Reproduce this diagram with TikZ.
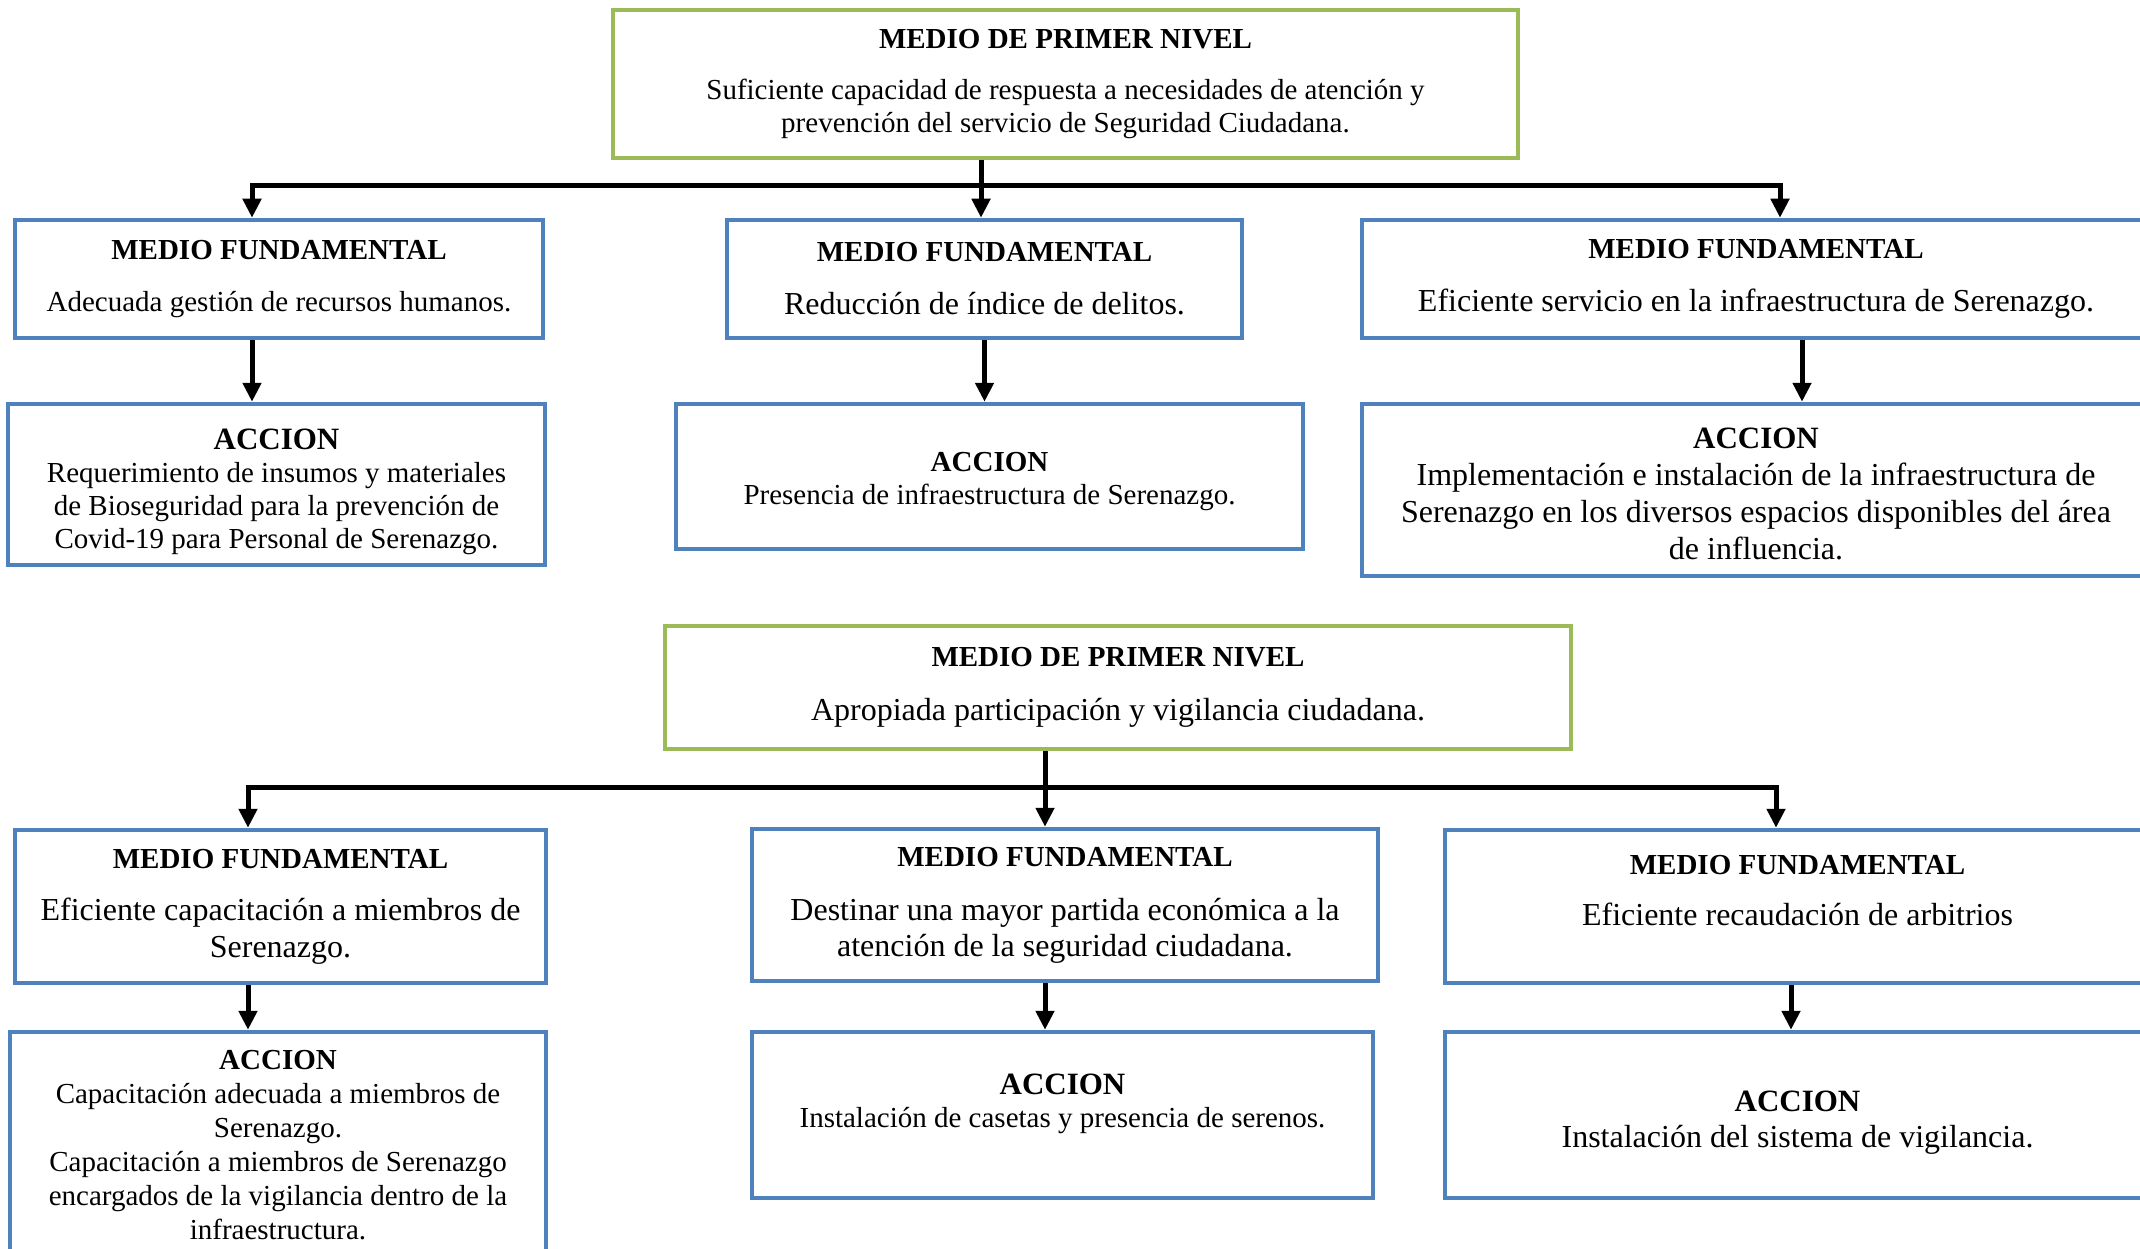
\documentclass[tikz,border=0pt]{standalone}
\usepackage{fontspec}
\setmainfont{Liberation Serif}
\usepackage{xcolor}
\usetikzlibrary{arrows.meta}

\definecolor{azulmedio}{RGB}{79,129,189}
\definecolor{verdenivel}{RGB}{155,187,89}
\newcommand{\cuerpo}{\fontsize{29}{33}\selectfont}
\newcommand{\grande}{\fontsize{32}{37}\selectfont}
\newcommand{\titulo}[1]{{\cuerpo\bfseries #1}}
\newcommand{\accion}[2][31]{\rule{0pt}{#2}{\fontsize{#1}{#1}\selectfont\bfseries ACCION}}

\begin{document}
\begin{tikzpicture}[x=1pt, y=-1pt,
  caja/.style={draw=azulmedio, line width=4.5pt, align=center, inner sep=0pt, font=\cuerpo},
  nivel/.style={caja, draw=verdenivel},
  flecha/.style={line width=5pt, -{Triangle[length=19pt,width=18pt]}}]
\useasboundingbox (0,0) rectangle (2140,1249);
\clip (0,0) rectangle (2140,1249);

% primer medio de primer nivel
\node[nivel, minimum width=905pt, minimum height=148pt] (G1) at (1065.5,84) {\titulo{MEDIO DE PRIMER NIVEL}\\[18pt]Suficiente capacidad de respuesta a necesidades de atención y\\prevención del servicio de Seguridad Ciudadana.};

\node[caja, minimum width=528pt, minimum height=118pt] (MF1) at (279,279) {\titulo{MEDIO FUNDAMENTAL}\\[19pt]Adecuada gestión de recursos humanos.};
\node[caja, minimum width=515pt, minimum height=118pt, font=\grande] (MF2) at (984.5,279) {\titulo{MEDIO FUNDAMENTAL}\\[16pt]Reducción de índice de delitos.};
\node[caja, minimum width=788pt, minimum height=118pt, font=\grande] (MF3) at (1756,279) {\titulo{MEDIO FUNDAMENTAL}\\[16pt]Eficiente servicio en la infraestructura de Serenazgo.};

\node[caja, minimum width=537pt, minimum height=161pt] (A1) at (276.5,484.5) {\accion{35pt}\\Requerimiento de insumos y materiales\\de Bioseguridad para la prevención de\\Covid-19 para Personal de Serenazgo.};
\node[caja, minimum width=627pt, minimum height=145pt] (A2) at (989.5,476.5) {\accion[29]{30pt}\\Presencia de infraestructura de Serenazgo.};
\node[caja, minimum width=788pt, minimum height=172pt, font=\grande] (A3) at (1756,490) {\accion{28pt}\\Implementación e instalación de la infraestructura de\\Serenazgo en los diversos espacios disponibles del área\\de influencia.};

% segundo medio de primer nivel
\node[nivel, minimum width=906pt, minimum height=123pt, font=\grande] (G2) at (1118,687.5) {\titulo{MEDIO DE PRIMER NIVEL}\\[17pt]Apropiada participación y vigilancia ciudadana.};

\node[caja, minimum width=531pt, minimum height=153pt, font=\grande] (MF4) at (280.5,906.5) {\titulo{MEDIO FUNDAMENTAL}\\[15pt]Eficiente capacitación a miembros de\\Serenazgo.};
\node[caja, minimum width=626pt, minimum height=152pt, font=\fontsize{32}{36}\selectfont] (MF5) at (1065,905) {\titulo{MEDIO FUNDAMENTAL}\\[18pt]Destinar una mayor partida económica a la\\atención de la seguridad ciudadana.};
\node[caja, minimum width=705pt, minimum height=153pt, font=\grande] (MF6) at (1797.5,906.5) {\titulo{MEDIO FUNDAMENTAL}\\[14pt]Eficiente recaudación de arbitrios\\[-4pt]~};

\node[caja, minimum width=536pt, minimum height=226pt, font=\fontsize{29}{34}\selectfont] (A4) at (278,1145) {\accion[29]{0pt}\\Capacitación adecuada a miembros de\\Serenazgo.\\Capacitación a miembros de Serenazgo\\encargados de la vigilancia dentro de la\\infraestructura.};
\node[caja, minimum width=621pt, minimum height=166pt] (A5) at (1062.5,1115) {\accion{24pt}\\Instalación de casetas y presencia de serenos.\\~};
\node[caja, minimum width=705pt, minimum height=166pt, font=\fontsize{32}{36}\selectfont] (A6) at (1797.5,1115) {\accion{35pt}\\Instalación del sistema de vigilancia.};

% ejes de los conectores
\coordinate (bus1) at (981,186);
\coordinate (b1) at (252,186);
\coordinate (b3) at (1780,186);
\coordinate (ejeA3) at (1802,0);
\coordinate (bus2) at (1045,787);
\coordinate (b4) at (248,787);
\coordinate (b6) at (1776,787);
\coordinate (ejeA6) at (1791,0);

\draw[flecha] (G1.south -| bus1) -- (MF2.north -| bus1);
\draw[flecha] (bus1) -| (MF1.north -| b1);
\draw[flecha] (bus1) -| (MF3.north -| b3);

\draw[flecha] (MF1.south -| b1) -- (A1.north -| b1);
\draw[flecha] (MF2.south) -- (MF2.south |- A2.north);
\draw[flecha] (MF3.south -| ejeA3) -- (A3.north -| ejeA3);

\draw[flecha] (G2.south -| bus2) -- (MF5.north -| bus2);
\draw[flecha] (bus2) -| (MF4.north -| b4);
\draw[flecha] (bus2) -| (MF6.north -| b6);

\draw[flecha] (MF4.south -| b4) -- (A4.north -| b4);
\draw[flecha] (MF5.south -| bus2) -- (A5.north -| bus2);
\draw[flecha] (MF6.south -| ejeA6) -- (A6.north -| ejeA6);

\end{tikzpicture}
\end{document}
